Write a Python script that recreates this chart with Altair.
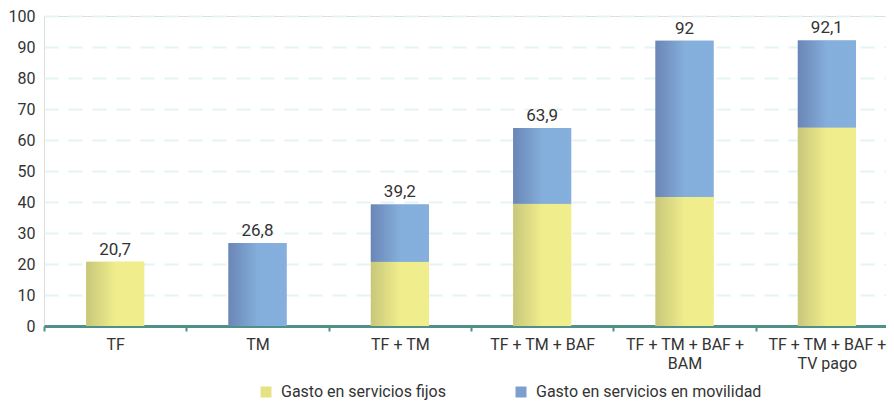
import altair as alt
import pandas as pd

categories = ["TF", "TM", "TF + TM", "TF + TM + BAF", "TF + TM + BAF +\nBAM", "TF + TM + BAF +\nTV pago"]
fijos = [20.7, 0.0, 20.7, 39.4, 41.6, 64.0]
movilidad = [0.0, 26.8, 18.5, 24.5, 50.4, 28.1]
totals = [20.7, 26.8, 39.2, 63.9, 92.0, 92.1]
total_labels = ["20,7", "26,8", "39,2", "63,9", "92", "92,1"]
series = ["Gasto en servicios fijos", "Gasto en servicios en movilidad"]
y_ticks = [0, 10, 20, 30, 40, 50, 60, 70, 80, 90, 100]

rows = []
for c, f, m in zip(categories, fijos, movilidad):
    if f > 0:
        rows.append({"cat": c, "serie": series[0], "y0": 0.0, "y1": f})
    if m > 0:
        rows.append({"cat": c, "serie": series[1], "y0": f, "y1": f + m})
df = pd.DataFrame(rows)
tot = pd.DataFrame({"cat": categories, "total": totals, "label": total_labels})

FONT = "Roboto"
TXT = "#333333"

yellow_grad = alt.LinearGradient(
    gradient="linear", x1=0, x2=1, y1=0, y2=0,
    stops=[alt.GradientStop(offset=0, color="#c8c77a"),
           alt.GradientStop(offset=0.5, color="#efed8c"),
           alt.GradientStop(offset=1, color="#f0ee8c")])
blue_grad = alt.LinearGradient(
    gradient="linear", x1=0, x2=1, y1=0, y2=0,
    stops=[alt.GradientStop(offset=0, color="#6a86b6"),
           alt.GradientStop(offset=0.5, color="#84aedb"),
           alt.GradientStop(offset=1, color="#85afdc")])

x_axis = alt.Axis(labelExpr="split(datum.label, '\\n')", labelAngle=0,
                  labelFont=FONT, labelFontSize=16, labelColor=TXT,
                  labelLineHeight=19, labelPadding=5, labelBaseline="top",
                  labelLimit=0, labelOverlap=False,
                  domainColor="#4f9189", domainWidth=3,
                  tickColor="#4f9189", tickWidth=2, tickSize=5,
                  tickBand="extent", tickOffset=4, grid=False)
x_scale = alt.Scale(paddingInner=0, paddingOuter=0)
y_axis = alt.Axis(values=y_ticks, domain=False, ticks=False,
                  labelFont=FONT, labelFontSize=16, labelColor=TXT, labelPadding=9,
                  labelOverlap=False,
                  gridColor="#e3f4f7", gridWidth=2, gridDash=[14, 10])
y_scale = alt.Scale(domain=[0, 100], nice=False)


def X():
    return alt.X("cat:N", sort=categories, title=None, scale=x_scale, axis=x_axis)


def Y(field):
    return alt.Y(field, scale=y_scale, title=None, axis=y_axis)


base = alt.Chart(df).mark_bar(width=58).encode(
    x=X(), y=Y("y0:Q"), y2="y1:Q",
    color=alt.Color("serie:N", sort=series,
                    scale=alt.Scale(domain=series, range=["#e4e285", "#7c9fd0"]),
                    legend=alt.Legend(title=None, orient="none", legendX=214, legendY=368,
                                      direction="horizontal", symbolType="square",
                                      symbolSize=121, symbolStrokeWidth=0,
                                      labelFont=FONT, labelFontSize=16, labelColor=TXT,
                                      labelLimit=0,
                                      labelOffset=7, columnPadding=67, padding=0)),
)

fix_layer = alt.Chart(df).transform_filter(alt.datum.serie == series[0]).mark_bar(
    width=58, color=yellow_grad).encode(x=X(), y=Y("y0:Q"), y2="y1:Q")
mov_layer = alt.Chart(df).transform_filter(alt.datum.serie == series[1]).mark_bar(
    width=58, color=blue_grad).encode(x=X(), y=Y("y0:Q"), y2="y1:Q")

labels = alt.Chart(tot).mark_text(font=FONT, fontSize=17, color=TXT, baseline="bottom", dy=-3).encode(
    x=X(), y=Y("total:Q"), text="label:N")

chart = alt.layer(base, fix_layer, mov_layer, labels).properties(
    width=854, height=310,
    autosize=alt.AutoSizeParams(type="none"),
    padding={"left": 36, "top": 8, "right": -12, "bottom": 76},
).configure_view(stroke=None).configure(background="white")

chart.save("out.html", embed_options={"renderer": "svg", "actions": False})
